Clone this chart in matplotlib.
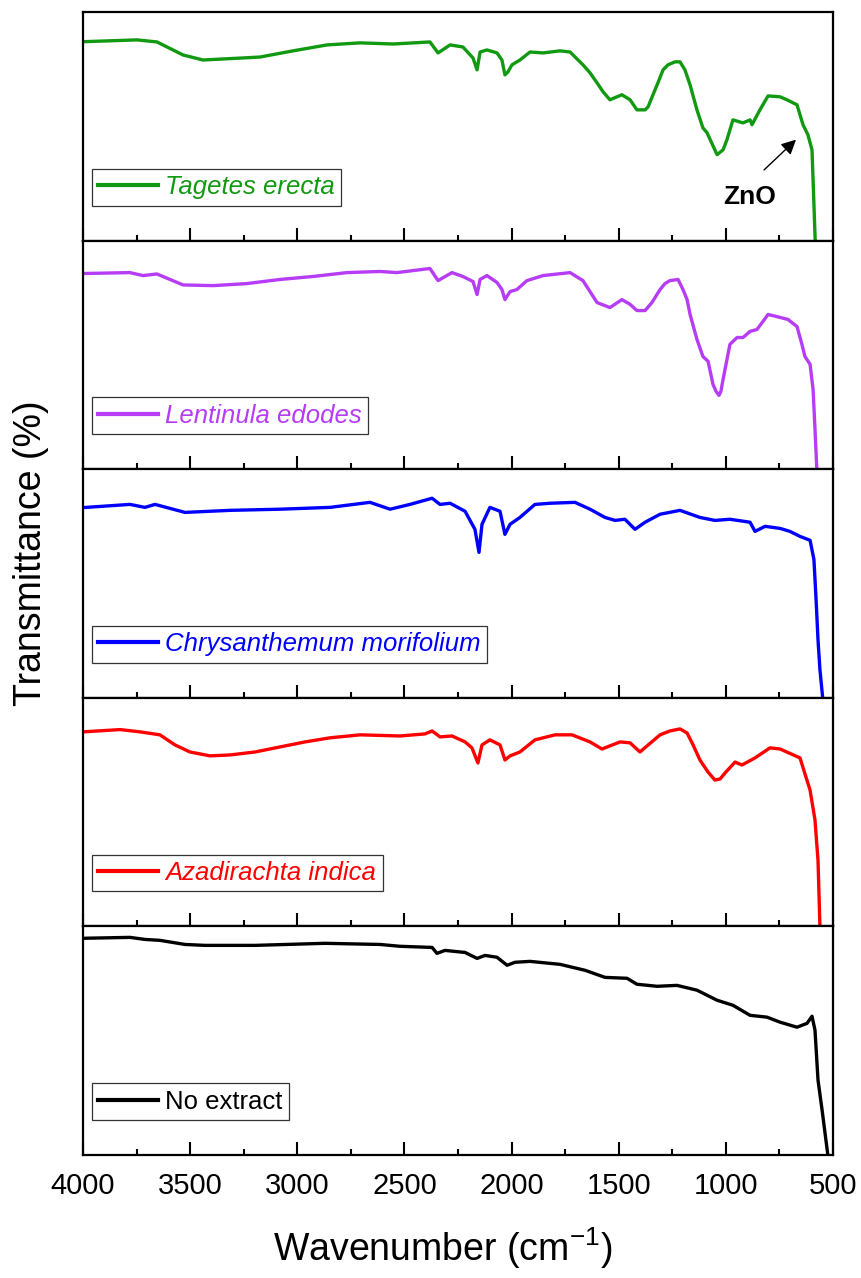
"""FTIR spectra of ZnO nanoparticles made with different plant/fungal extracts.

Five stacked panels sharing the wavenumber axis; transmittance values are
read per panel (0 = panel bottom, 100 = panel top).
"""

import matplotlib.pyplot as plt
from matplotlib.ticker import MultipleLocator

plt.rcParams["font.family"] = ["Liberation Sans", "DejaVu Sans"]
plt.rcParams["mathtext.fontset"] = "custom"
plt.rcParams["mathtext.rm"] = "Liberation Sans"
plt.rcParams["mathtext.it"] = "Liberation Sans:italic"
plt.rcParams["mathtext.bf"] = "Liberation Sans:bold"

# --- data --------------------------------------------------------------
tagetes_wn = [4000, 3748, 3655, 3533, 3440, 3253, 3174, 3020, 2861, 2707,
              2553, 2381, 2343, 2287, 2227, 2180, 2161, 2147, 2115, 2068,
              2045, 2031, 2017, 1998, 1961, 1914, 1853, 1774, 1727, 1667,
              1634, 1601, 1573, 1541, 1485, 1447, 1415, 1377, 1363, 1340,
              1317, 1293, 1270, 1237, 1214, 1191, 1167, 1135, 1107, 1088,
              1041, 1013, 995, 967, 920, 887, 878, 841, 803, 747,
              715, 668, 640, 617, 598, 593, 582]
tagetes_t = [87.0, 87.8, 86.9, 81.2, 79.0, 79.9, 80.3, 83.0, 85.6, 86.5,
             86.0, 86.9, 82.1, 85.6, 84.7, 79.9, 74.7, 82.5, 83.4, 82.1,
             79.0, 72.5, 73.8, 76.9, 79.0, 82.5, 82.1, 83.0, 82.5, 76.9,
             73.4, 69.0, 65.1, 61.6, 63.8, 61.6, 57.2, 57.2, 58.5, 63.8,
             69.0, 74.7, 76.9, 78.2, 78.2, 74.7, 68.1, 57.2, 49.3, 47.2,
             37.6, 39.7, 44.1, 52.8, 51.5, 52.8, 50.7, 57.2, 63.3, 62.9,
             61.6, 59.4, 50.7, 46.3, 39.7, 26.6, -3.0]

lentinula_wn = [4000, 3781, 3720, 3655, 3533, 3393, 3235, 3081, 2927, 2768,
                2614, 2535, 2381, 2343, 2278, 2227, 2180, 2161, 2147, 2115,
                2068, 2045, 2031, 2007, 1975, 1928, 1853, 1727, 1667, 1601,
                1541, 1485, 1447, 1415, 1377, 1345, 1307, 1284, 1261, 1223,
                1200, 1181, 1167, 1135, 1107, 1083, 1060, 1046, 1032, 1023,
                1013, 981, 948, 920, 887, 855, 827, 803, 747, 710,
                668, 645, 631, 607, 593, 584, 574]
lentinula_t = [85.6, 86.0, 84.7, 85.4, 80.6, 80.3, 81.2, 83.0, 84.3, 86.0,
               86.5, 86.0, 87.8, 82.5, 86.0, 84.3, 82.1, 76.4, 83.0, 84.7,
               81.7, 78.6, 74.2, 77.7, 78.6, 82.5, 84.7, 86.0, 82.5, 72.9,
               70.7, 74.2, 72.1, 69.4, 69.4, 72.9, 78.6, 81.2, 82.5, 83.0,
               78.6, 74.2, 67.7, 56.8, 49.3, 47.2, 37.1, 34.1, 32.3, 34.1,
               39.3, 54.6, 57.6, 57.6, 60.3, 61.1, 64.6, 67.7, 66.4, 65.5,
               62.4, 54.6, 49.3, 45.9, 34.9, 17.5, -3.0]

chrysanthemum_wn = [4000, 3781, 3711, 3664, 3524, 3314, 3081, 2847, 2661, 2567,
                    2474, 2371, 2334, 2287, 2217, 2171, 2152, 2138, 2101, 2054,
                    2031, 2007, 1961, 1891, 1821, 1704, 1634, 1564, 1517, 1471,
                    1424, 1377, 1307, 1214, 1121, 1051, 981, 887, 864, 817,
                    747, 701, 654, 607, 589, 579, 570, 561, 545]
chrysanthemum_t = [83.2, 84.6, 83.3, 84.6, 81.1, 82.0, 82.5, 83.3, 85.5, 82.5,
                   84.6, 87.3, 84.6, 85.1, 81.6, 73.7, 63.6, 75.9, 83.3, 81.6,
                   71.5, 75.9, 78.9, 84.6, 85.1, 85.5, 82.5, 78.9, 77.6, 78.1,
                   73.7, 76.8, 80.3, 82.0, 78.9, 77.6, 78.1, 76.8, 72.8, 75.0,
                   74.1, 72.8, 70.6, 68.9, 60.5, 43.0, 25.4, 12.3, -3.0]

azadirachta_wn = [4000, 3827, 3734, 3641, 3571, 3501, 3407, 3314, 3197, 3081,
                  2964, 2847, 2707, 2521, 2404, 2371, 2334, 2278, 2217, 2185,
                  2157, 2138, 2101, 2054, 2031, 2007, 1961, 1891, 1797, 1718,
                  1634, 1578, 1494, 1447, 1401, 1307, 1261, 1214, 1181, 1153,
                  1121, 1083, 1051, 1027, 1004, 957, 925, 864, 794, 747,
                  654, 607, 584, 570, 560]
azadirachta_t = [85.1, 86.1, 85.1, 83.8, 79.4, 76.3, 74.6, 75.0, 76.3, 78.5,
                 80.7, 82.5, 83.8, 83.3, 84.2, 85.5, 82.9, 83.3, 80.7, 78.1,
                 71.5, 79.4, 81.6, 79.4, 72.8, 74.6, 76.3, 81.6, 83.8, 83.8,
                 80.7, 77.6, 80.7, 80.3, 76.3, 83.8, 85.5, 86.4, 84.6, 79.4,
                 72.8, 67.5, 64.0, 64.5, 67.1, 71.9, 70.6, 73.7, 78.1, 77.6,
                 73.7, 59.6, 46.5, 28.9, -3.0]

no_extract_wn = [4000, 3781, 3711, 3641, 3524, 3431, 3197, 2871, 2614, 2521,
                 2371, 2348, 2311, 2217, 2161, 2124, 2068, 2021, 1984, 1914,
                 1774, 1657, 1564, 1461, 1415, 1321, 1228, 1135, 1041, 967,
                 887, 808, 747, 668, 621, 598, 584, 570, 551, 520]
no_extract_t = [94.8, 95.2, 94.3, 93.9, 92.1, 91.7, 91.7, 92.6, 92.1, 91.3,
                90.8, 88.2, 89.5, 88.6, 86.0, 87.3, 86.5, 83.0, 84.3, 84.7,
                83.4, 80.8, 77.7, 77.3, 74.7, 73.8, 74.2, 72.1, 67.7, 65.5,
                61.1, 60.3, 58.1, 55.9, 57.6, 60.7, 54.6, 32.8, 19.7, -3.0]

labels = ["Tagetes erecta", "Lentinula edodes", "Chrysanthemum morifolium",
          "Azadirachta indica", "No extract"]
italic_labels = [True, True, True, True, False]
colors = ["#119911", "#b63cf5", "#0000ff", "#ff0000", "#000000"]

# ZnO arrow in the top panel (wavenumber, transmittance)
zno_tip = (663, 45.0)
zno_tail = (831, 30.1)
zno_text = (887, 19.2)


def main() -> None:
    series = [
        (tagetes_wn, tagetes_t),
        (lentinula_wn, lentinula_t),
        (chrysanthemum_wn, chrysanthemum_t),
        (azadirachta_wn, azadirachta_t),
        (no_extract_wn, no_extract_t),
    ]

    fig, axes = plt.subplots(5, 1, sharex=True, figsize=(8.61, 12.78), dpi=100)
    fig.subplots_adjust(left=83 / 861, right=833 / 861,
                        top=1 - 12 / 1278, bottom=1 - 1155 / 1278, hspace=0)

    for ax, (wn, t), label, italic, color in zip(axes, series, labels,
                                                  italic_labels, colors):
        ax.plot(wn, t, color=color, lw=2.4, label=label,
                solid_joinstyle="round")
        ax.set_ylim(0, 100)
        ax.set_yticks([])
        ax.set_xlim(4000, 500)
        ax.xaxis.set_major_locator(MultipleLocator(500))
        ax.xaxis.set_minor_locator(MultipleLocator(250))
        ax.tick_params(axis="x", which="major", direction="in", length=9.5,
                       width=1.5, labelsize=21, pad=12, top=False)
        ax.tick_params(axis="x", which="minor", direction="in", length=4.5,
                       width=1.5, top=False)
        for spine in ax.spines.values():
            spine.set_linewidth(1.6)

        leg = ax.legend(loc="lower left", bbox_to_anchor=(0.012, 0.153),
                        borderaxespad=0, fancybox=False, framealpha=1,
                        edgecolor="#333333", handlelength=2.3,
                        handletextpad=0.3, borderpad=0.25,
                        labelcolor="linecolor",
                        prop={"size": 18.5,
                              "style": "italic" if italic else "normal"})
        leg.get_frame().set_linewidth(0.9)
        for handle in leg.get_lines():
            handle.set_linewidth(3)

    axes[0].annotate("", xy=zno_tip, xytext=zno_tail,
                     arrowprops=dict(arrowstyle="-|>", color="black", lw=1.0,
                                     mutation_scale=22))
    axes[0].text(*zno_text, "ZnO", fontsize=19, fontweight="bold",
                 ha="center", va="center")

    fig.text(443 / 861, 1 - 1248 / 1278, "Wavenumber (cm$^{-1}$)",
             fontsize=27, ha="center", va="center")
    fig.text(31 / 861, 1 - 553 / 1278, "Transmittance (%)", fontsize=27,
             rotation=90, ha="center", va="center")

    fig.savefig("out.png", dpi=100)
    plt.close(fig)


if __name__ == "__main__":
    main()
